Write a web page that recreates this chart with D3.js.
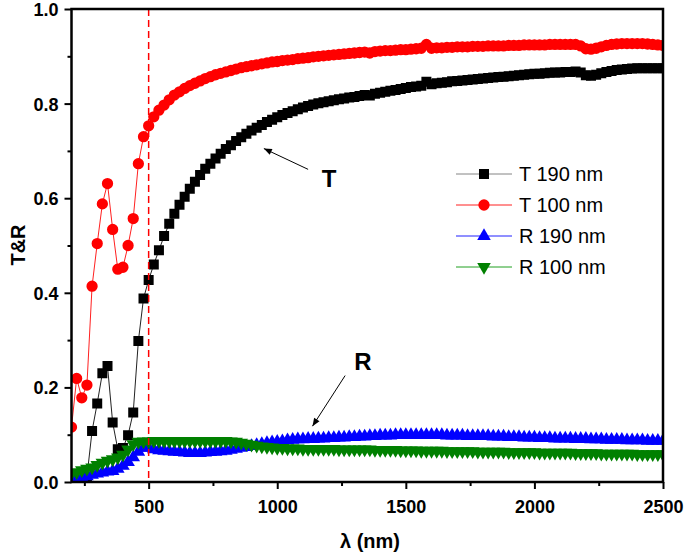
<!DOCTYPE html>
<html>
<head>
<meta charset="utf-8">
<script src="https://cdn.jsdelivr.net/npm/d3@7"></script>
<style>
  body { margin: 0; background: #fff; }
  text { font-family: "Liberation Sans", Arial, sans-serif; }
</style>
</head>
<body>
<svg class="chart" width="685" height="554"></svg>
<script>
// sampling grid of the spectra (nm), one point every 20 nm
const wavelength = d3.range(200, 2501, 20);

const t190 = [
  0.000,0.000,0.003,0.011,0.108,0.166,0.230,0.245,0.126,0.069,
  0.072,0.099,0.147,0.298,0.388,0.427,0.460,0.490,0.520,0.546,
  0.567,0.586,0.603,0.620,0.635,0.649,0.662,0.673,0.684,0.694,
  0.704,0.712,0.721,0.729,0.736,0.743,0.749,0.755,0.761,0.766,
  0.771,0.776,0.780,0.784,0.788,0.792,0.795,0.798,0.801,0.803,
  0.805,0.807,0.809,0.811,0.813,0.814,0.816,0.818,0.817,0.821,
  0.823,0.825,0.827,0.829,0.831,0.833,0.835,0.836,0.838,0.846,
  0.841,0.843,0.844,0.845,0.847,0.848,0.849,0.850,0.851,0.852,
  0.853,0.854,0.855,0.856,0.857,0.858,0.859,0.860,0.861,0.862,
  0.863,0.863,0.864,0.865,0.866,0.866,0.867,0.867,0.868,0.866,
  0.860,0.859,0.861,0.864,0.867,0.869,0.871,0.872,0.873,0.874,
  0.875,0.875,0.875,0.875,0.875,0.875
];

const t100 = [
  0.116,0.219,0.178,0.205,0.414,0.504,0.588,0.631,0.534,0.450,
  0.454,0.500,0.557,0.673,0.730,0.753,0.772,0.786,0.797,0.808,
  0.818,0.825,0.832,0.838,0.843,0.848,0.853,0.857,0.861,0.864,
  0.867,0.870,0.873,0.876,0.878,0.880,0.882,0.884,0.886,0.888,
  0.889,0.891,0.892,0.893,0.895,0.896,0.897,0.899,0.900,0.901,
  0.902,0.903,0.904,0.905,0.906,0.907,0.908,0.909,0.907,0.910,
  0.911,0.912,0.912,0.913,0.914,0.914,0.915,0.916,0.917,0.925,
  0.917,0.918,0.918,0.919,0.919,0.920,0.920,0.920,0.921,0.921,
  0.921,0.922,0.922,0.922,0.922,0.923,0.923,0.923,0.924,0.924,
  0.924,0.924,0.924,0.925,0.925,0.925,0.925,0.925,0.925,0.922,
  0.916,0.915,0.917,0.920,0.923,0.925,0.926,0.927,0.927,0.927,
  0.927,0.927,0.926,0.925,0.924,0.923
];

const r190 = [
  0.004,0.006,0.009,0.012,0.015,0.018,0.020,0.022,0.023,0.028,
  0.034,0.042,0.052,0.064,0.072,0.072,0.069,0.067,0.066,0.065,
  0.064,0.063,0.062,0.061,0.061,0.061,0.062,0.063,0.064,0.065,
  0.066,0.068,0.070,0.072,0.074,0.076,0.078,0.080,0.082,0.084,
  0.085,0.086,0.088,0.089,0.090,0.090,0.091,0.091,0.092,0.092,
  0.093,0.093,0.094,0.094,0.095,0.095,0.096,0.096,0.097,0.097,
  0.098,0.098,0.098,0.099,0.099,0.099,0.099,0.099,0.099,0.099,
  0.099,0.099,0.099,0.098,0.098,0.098,0.098,0.097,0.097,0.097,
  0.097,0.097,0.096,0.096,0.096,0.095,0.095,0.095,0.094,0.094,
  0.094,0.093,0.093,0.093,0.092,0.092,0.092,0.092,0.091,0.091,
  0.091,0.090,0.090,0.090,0.089,0.089,0.089,0.089,0.088,0.088,
  0.088,0.088,0.087,0.087,0.087,0.087
];

const r100 = [
  0.018,0.021,0.025,0.028,0.031,0.036,0.041,0.045,0.048,0.052,
  0.058,0.069,0.080,0.085,0.086,0.086,0.087,0.087,0.087,0.087,
  0.087,0.087,0.087,0.087,0.087,0.087,0.087,0.087,0.087,0.087,
  0.087,0.086,0.085,0.083,0.081,0.079,0.077,0.075,0.074,0.073,
  0.072,0.072,0.071,0.071,0.071,0.070,0.070,0.070,0.070,0.070,
  0.070,0.070,0.069,0.069,0.069,0.069,0.069,0.069,0.069,0.068,
  0.068,0.068,0.068,0.068,0.067,0.067,0.067,0.067,0.066,0.066,
  0.066,0.066,0.066,0.065,0.065,0.065,0.065,0.065,0.065,0.064,
  0.064,0.064,0.064,0.064,0.064,0.063,0.063,0.063,0.063,0.063,
  0.063,0.062,0.062,0.062,0.062,0.062,0.062,0.062,0.061,0.061,
  0.061,0.061,0.061,0.060,0.060,0.060,0.060,0.060,0.060,0.060,
  0.059,0.059,0.059,0.059,0.059,0.059
];

const seriesNames = ["T 190 nm", "T 100 nm", "R 190 nm", "R 100 nm"];
const xMajorTicks = [500, 1000, 1500, 2000, 2500];
const xMinorTicks = [250, 750, 1250, 1750, 2250];
const yMajorTicks = [0, 0.2, 0.4, 0.6, 0.8, 1.0];
const yMinorTicks = [0.1, 0.3, 0.5, 0.7, 0.9];
const markLine = 500;

var margin = {top: 9, right: 22, bottom: 72, left: 71.5};
var width = 685 - margin.left - margin.right;
var height = 554 - margin.top - margin.bottom;

var x = d3.scaleLinear().domain([200, 2500]).range([0, width]);
var y = d3.scaleLinear().domain([0, 1]).range([height, 0]);

var svg = d3.select(".chart");
var g = svg.append("g")
    .attr("transform", "translate(" + margin.left + "," + margin.top + ")");

g.append("clipPath").attr("id", "plot")
  .append("rect").attr("width", width).attr("height", height);

var series = [
  {name: seriesNames[0], values: t190, color: "#000000", line: "#222222", shape: d3.symbolSquare, size: 100, rot: 0},
  {name: seriesNames[1], values: t100, color: "#ff0000", line: "#ff2020", shape: d3.symbolCircle, size: 100, rot: 0},
  {name: seriesNames[2], values: r190, color: "#0000ff", line: "#2020ff", shape: d3.symbolTriangle, size: 80, rot: 0},
  {name: seriesNames[3], values: r100, color: "#008000", line: "#20a020", shape: d3.symbolTriangle, size: 80, rot: 180}
];

var line = d3.line()
  .x(function(d, i) { return x(wavelength[i]); })
  .y(function(d) { return y(d); });

var plot = g.append("g").attr("clip-path", "url(#plot)");

// plotted in legend order, so the R curves lie on top
series.forEach(function(s) {
  var sg = plot.append("g");
  sg.append("path")
    .attr("d", line(s.values))
    .attr("fill", "none")
    .attr("stroke", s.line)
    .attr("stroke-width", 1);
  sg.selectAll("path.pt")
    .data(s.values)
    .enter().append("path")
    .attr("class", "pt")
    .attr("d", d3.symbol().type(s.shape).size(s.size))
    .attr("fill", s.color)
    .attr("transform", function(d, i) {
      return "translate(" + x(wavelength[i]) + "," + y(d) + ") rotate(" + s.rot + ")";
    });
});

// red dashed line at 500 nm
g.append("line")
  .attr("x1", x(markLine)).attr("x2", x(markLine))
  .attr("y1", 0).attr("y2", height)
  .attr("stroke", "#ff0000")
  .attr("stroke-width", 1.5)
  .attr("stroke-dasharray", "7,4");

// frame
g.append("rect")
  .attr("width", width).attr("height", height)
  .attr("fill", "none")
  .attr("stroke", "#000")
  .attr("stroke-width", 2.5);

// add the x Axis
var xAxis = g.append("g")
  .attr("transform", "translate(0," + height + ")")
  .call(d3.axisBottom(x).tickValues(xMajorTicks).tickSize(7).tickPadding(11).tickFormat(d3.format("d")));
g.append("g")
  .attr("transform", "translate(0," + height + ")")
  .call(d3.axisBottom(x).tickValues(xMinorTicks).tickSize(4).tickFormat(""));

// add the y Axis
var yAxis = g.append("g")
  .call(d3.axisLeft(y).tickValues(yMajorTicks).tickSize(7).tickPadding(6).tickFormat(d3.format(".1f")));
g.append("g")
  .call(d3.axisLeft(y).tickValues(yMinorTicks).tickSize(4).tickFormat(""));

g.selectAll(".domain").remove();
g.selectAll(".tick line").attr("stroke", "#000").attr("stroke-width", 2);
g.selectAll(".tick text")
  .attr("fill", "#000")
  .style("font-size", "18px")
  .style("font-weight", "bold")
  .style("font-family", "'Liberation Sans', Arial, sans-serif");
yAxis.selectAll(".tick text").attr("dy", "0.36em");

// axis titles
svg.append("text")
  .attr("x", 370).attr("y", 548)
  .attr("text-anchor", "middle")
  .style("font-size", "20px").style("font-weight", "bold")
  .text("λ (nm)");

svg.append("text")
  .attr("transform", "translate(25,245) rotate(-90)")
  .attr("text-anchor", "middle")
  .style("font-size", "20px").style("font-weight", "bold")
  .text("T&R");

// annotations
svg.append("defs").append("marker")
  .attr("id", "arrow")
  .attr("viewBox", "0 0 10 10")
  .attr("refX", 10).attr("refY", 5)
  .attr("markerWidth", 12).attr("markerHeight", 8)
  .attr("markerUnits", "userSpaceOnUse")
  .attr("orient", "auto")
  .append("path").attr("d", "M0,1 L10,5 L0,9 Z").attr("fill", "#000");

var notes = [
  {label: "T", from: [1120, 0.661], to: [948, 0.705], at: [1202, 0.642]},
  {label: "R", from: [1264, 0.225], to: [1137, 0.118], at: [1333, 0.254]}
];
notes.forEach(function(n) {
  g.append("line")
    .attr("x1", x(n.from[0])).attr("y1", y(n.from[1]))
    .attr("x2", x(n.to[0])).attr("y2", y(n.to[1]))
    .attr("stroke", "#000").attr("stroke-width", 1)
    .attr("marker-end", "url(#arrow)");
  g.append("text")
    .attr("x", x(n.at[0])).attr("y", y(n.at[1]))
    .attr("dy", "0.36em")
    .attr("text-anchor", "middle")
    .style("font-size", "24px").style("font-weight", "bold")
    .text(n.label);
});

// legend
var legend = svg.append("g").attr("transform", "translate(456,174)");
series.forEach(function(s, i) {
  var row = legend.append("g").attr("transform", "translate(0," + (i * 31) + ")");
  row.append("line")
    .attr("x1", 0).attr("x2", 56).attr("y1", 0).attr("y2", 0)
    .attr("stroke", s.line).attr("stroke-width", 1)
    .attr("opacity", i == 0 ? 0.55 : 1);
  row.append("path")
    .attr("d", d3.symbol().type(s.shape).size(s.size))
    .attr("fill", s.color)
    .attr("transform", "translate(28,0) rotate(" + s.rot + ")");
  row.append("text")
    .attr("x", 63).attr("y", 0).attr("dy", "0.36em")
    .style("font-size", "20px")
    .text(s.name);
});
</script>
</body>
</html>
